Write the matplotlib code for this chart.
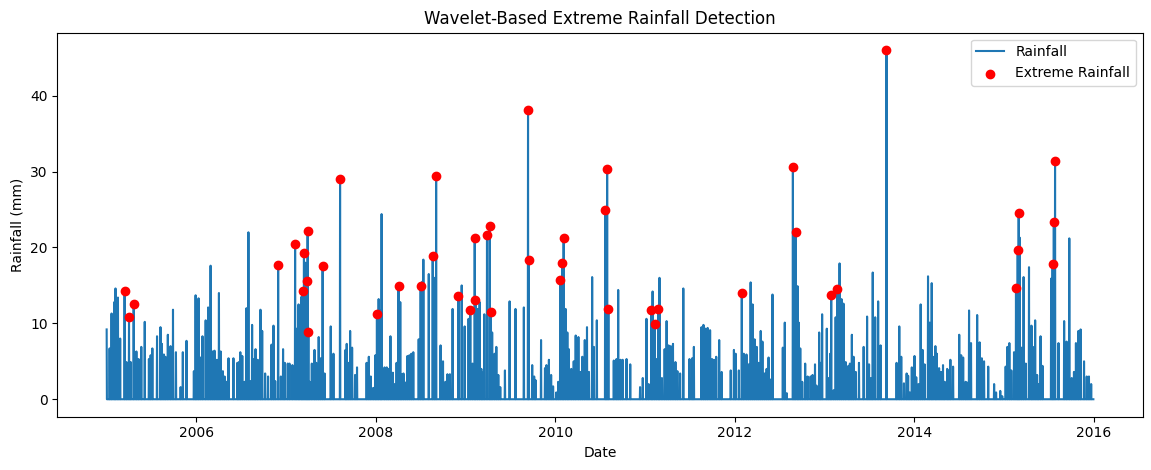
import numpy as np
import pandas as pd
import matplotlib
matplotlib.use("Agg")
import matplotlib.pyplot as plt

# Rain events: decimal year and rainfall (mm); all other days are 0
rain_years = [
    2005.000, 2005.032, 2005.054, 2005.084, 2005.099, 2005.125, 2005.151, 2005.200, 2005.222, 2005.248,
    2005.267, 2005.300, 2005.331, 2005.356, 2005.387, 2005.424, 2005.472, 2005.491, 2005.510, 2005.561,
    2005.599, 2005.617, 2005.639, 2005.655, 2005.681, 2005.711, 2005.740, 2005.771, 2005.823, 2005.849,
    2005.890, 2005.972, 2005.991, 2006.004, 2006.023, 2006.042, 2006.068, 2006.102, 2006.132, 2006.158,
    2006.183, 2006.202, 2006.228, 2006.250, 2006.269, 2006.295, 2006.314, 2006.337, 2006.359, 2006.412,
    2006.456, 2006.474, 2006.490, 2006.512, 2006.535, 2006.557, 2006.579, 2006.598, 2006.620, 2006.642,
    2006.658, 2006.684, 2006.714, 2006.732, 2006.766, 2006.799, 2006.837, 2006.859, 2006.878, 2006.911,
    2006.941, 2006.967, 2006.986, 2007.018, 2007.037, 2007.071, 2007.101, 2007.119, 2007.138, 2007.153,
    2007.172, 2007.186, 2007.198, 2007.213, 2007.228, 2007.239, 2007.247, 2007.261, 2007.287, 2007.317,
    2007.336, 2007.362, 2007.384, 2007.407, 2007.429, 2007.496, 2007.527, 2007.600, 2007.660, 2007.675,
    2007.690, 2007.712, 2007.734, 2007.768, 2007.790, 2007.896, 2007.922, 2007.944, 2007.970, 2007.995,
    2008.013, 2008.031, 2008.050, 2008.065, 2008.096, 2008.121, 2008.141, 2008.163, 2008.189, 2008.208,
    2008.230, 2008.253, 2008.272, 2008.289, 2008.308, 2008.331, 2008.350, 2008.372, 2008.394, 2008.417,
    2008.477, 2008.499, 2008.518, 2008.529, 2008.589, 2008.634, 2008.656, 2008.671, 2008.720, 2008.749,
    2008.776, 2008.798, 2008.824, 2008.854, 2008.921, 2008.955, 2008.990, 2009.032, 2009.051, 2009.077,
    2009.102, 2009.110, 2009.133, 2009.155, 2009.174, 2009.192, 2009.207, 2009.237, 2009.267, 2009.282,
    2009.297, 2009.323, 2009.342, 2009.364, 2009.387, 2009.438, 2009.491, 2009.555, 2009.648, 2009.696,
    2009.704, 2009.741, 2009.763, 2009.779, 2009.841, 2009.883, 2009.902, 2009.928, 2009.953, 2009.976,
    2010.010, 2010.032, 2010.055, 2010.077, 2010.092, 2010.114, 2010.133, 2010.151, 2010.178, 2010.204,
    2010.226, 2010.256, 2010.279, 2010.301, 2010.327, 2010.353, 2010.375, 2010.409, 2010.428, 2010.461,
    2010.554, 2010.566, 2010.577, 2010.592, 2010.652, 2010.682, 2010.700, 2010.726, 2010.749, 2010.793,
    2010.834, 2010.943, 2010.975, 2011.016, 2011.039, 2011.069, 2011.083, 2011.106, 2011.128, 2011.150,
    2011.159, 2011.188, 2011.218, 2011.240, 2011.262, 2011.285, 2011.311, 2011.337, 2011.360, 2011.389,
    2011.427, 2011.494, 2011.523, 2011.544, 2011.628, 2011.650, 2011.673, 2011.696, 2011.725, 2011.747,
    2011.769, 2011.792, 2011.826, 2011.852, 2011.953, 2011.989, 2012.010, 2012.044, 2012.078, 2012.100,
    2012.128, 2012.153, 2012.176, 2012.198, 2012.220, 2012.243, 2012.265, 2012.288, 2012.307, 2012.332,
    2012.355, 2012.377, 2012.396, 2012.419, 2012.534, 2012.556, 2012.579, 2012.646, 2012.661, 2012.676,
    2012.699, 2012.713, 2012.728, 2012.750, 2012.784, 2012.810, 2012.844, 2012.866, 2012.892, 2012.911,
    2012.940, 2012.956, 2012.973, 2013.025, 2013.047, 2013.063, 2013.074, 2013.100, 2013.122, 2013.142,
    2013.167, 2013.190, 2013.212, 2013.235, 2013.265, 2013.283, 2013.305, 2013.324, 2013.347, 2013.383,
    2013.436, 2013.473, 2013.495, 2013.518, 2013.537, 2013.563, 2013.596, 2013.623, 2013.690, 2013.802,
    2013.831, 2013.854, 2013.884, 2013.914, 2013.932, 2013.951, 2013.973, 2014.003, 2014.022, 2014.045,
    2014.070, 2014.093, 2014.115, 2014.152, 2014.171, 2014.193, 2014.208, 2014.235, 2014.252, 2014.275,
    2014.297, 2014.319, 2014.339, 2014.365, 2014.384, 2014.403, 2014.432, 2014.499, 2014.522, 2014.544,
    2014.571, 2014.588, 2014.611, 2014.633, 2014.701, 2014.727, 2014.753, 2014.776, 2014.824, 2014.888,
    2014.910, 2014.958, 2014.980, 2015.017, 2015.036, 2015.059, 2015.080, 2015.110, 2015.133, 2015.152,
    2015.163, 2015.174, 2015.193, 2015.219, 2015.241, 2015.278, 2015.305, 2015.323, 2015.345, 2015.368,
    2015.383, 2015.406, 2015.428, 2015.525, 2015.540, 2015.555, 2015.569, 2015.607, 2015.670, 2015.697,
    2015.726, 2015.753, 2015.779, 2015.801, 2015.827, 2015.854, 2015.891, 2015.921, 2015.947, 2015.970,
]
rain_mm = [
    9.2, 6.7, 11.3, 12.8, 14.6, 13.4, 8.0, 14.2, 4.9, 10.9,
    4.9, 12.5, 6.3, 5.3, 6.9, 10.2, 5.3, 5.8, 6.7, 8.3,
    9.5, 7.3, 5.9, 5.6, 8.5, 7.0, 11.8, 6.2, 1.6, 6.2,
    7.7, 3.7, 13.7, 5.5, 13.3, 5.5, 8.3, 10.4, 12.1, 17.6,
    6.3, 6.4, 5.2, 14.0, 6.3, 3.7, 3.0, 2.3, 5.4, 5.4,
    4.8, 4.9, 6.2, 5.7, 2.3, 12.0, 22.0, 2.4, 9.8, 5.3,
    6.6, 5.2, 11.8, 9.0, 3.4, 3.0, 7.2, 9.7, 2.4, 17.7,
    3.0, 6.6, 4.8, 4.7, 4.7, 4.5, 20.4, 9.3, 12.5, 12.2,
    13.5, 14.2, 19.3, 18.0, 15.6, 22.2, 8.9, 2.3, 4.7, 6.5,
    4.8, 8.2, 5.4, 17.6, 3.4, 9.6, 6.0, 29.0, 6.5, 7.3,
    4.8, 9.0, 6.8, 3.2, 4.2, 4.8, 5.6, 3.0, 1.5, 5.8,
    11.2, 13.2, 11.7, 24.4, 4.2, 4.2, 4.0, 8.3, 3.5, 2.0,
    4.8, 14.9, 12.8, 3.3, 3.4, 2.2, 5.7, 5.8, 6.0, 6.2,
    7.9, 14.9, 15.5, 18.4, 16.5, 18.9, 16.0, 29.4, 7.1, 5.0,
    2.3, 3.3, 3.3, 11.9, 13.6, 15.0, 9.6, 10.6, 11.7, 4.7,
    21.2, 13.1, 11.9, 12.8, 4.0, 3.5, 11.2, 21.7, 22.8, 11.5,
    8.8, 6.0, 6.9, 3.2, 1.6, 3.8, 12.9, 11.9, 12.1, 38.1,
    18.3, 4.5, 3.0, 2.5, 7.8, 4.1, 4.5, 5.2, 3.2, 1.7,
    0.9, 2.3, 15.7, 18.0, 21.3, 11.9, 8.8, 6.6, 4.0, 5.0,
    8.4, 8.2, 3.6, 5.6, 7.8, 9.5, 3.6, 16.1, 6.9, 10.4,
    25.0, 24.0, 30.3, 11.9, 5.1, 5.3, 14.4, 5.2, 5.2, 5.3,
    4.6, 1.6, 2.8, 10.6, 2.0, 11.7, 14.2, 9.9, 5.3, 11.9,
    16.0, 2.8, 6.6, 10.3, 7.1, 7.0, 7.3, 4.9, 3.7, 3.4,
    14.6, 5.3, 5.4, 6.9, 9.5, 9.8, 9.3, 9.4, 9.1, 5.3,
    5.2, 5.6, 7.8, 3.6, 3.8, 6.5, 6.0, 3.8, 14.0, 6.0,
    5.9, 4.6, 15.4, 12.5, 7.9, 6.9, 4.8, 9.0, 7.6, 3.4,
    4.0, 5.5, 2.6, 13.8, 6.8, 10.1, 0.8, 30.6, 21.5, 22.0,
    14.9, 10.1, 6.7, 2.3, 4.7, 3.0, 3.0, 3.2, 4.6, 1.8,
    8.8, 4.8, 11.2, 9.3, 2.8, 6.0, 13.8, 1.2, 10.8, 14.5,
    17.9, 13.2, 12.6, 4.9, 4.4, 4.7, 8.5, 5.6, 3.6, 4.8,
    6.9, 10.9, 4.6, 2.8, 16.7, 10.8, 12.9, 7.1, 46.0, 4.8,
    9.6, 5.6, 2.1, 3.4, 3.1, 0.9, 4.2, 5.7, 2.9, 2.0,
    12.5, 6.5, 4.6, 16.2, 10.1, 15.3, 5.6, 7.0, 6.0, 4.1,
    3.6, 4.5, 2.3, 4.0, 3.8, 5.2, 4.3, 8.5, 5.8, 5.5,
    2.3, 2.2, 11.7, 7.4, 11.1, 7.5, 5.4, 5.0, 4.3, 2.0,
    0.9, 1.1, 0.4, 4.3, 6.9, 7.4, 3.8, 6.2, 14.7, 19.7,
    24.5, 21.3, 6.8, 16.1, 4.7, 17.4, 9.7, 6.9, 10.4, 3.2,
    2.0, 8.3, 4.4, 15.9, 17.8, 23.4, 31.4, 7.4, 10.3, 7.6,
    21.2, 2.8, 3.6, 7.4, 9.0, 9.2, 5.0, 3.0, 3.0, 2.0,
]

# Days flagged as extreme (red points), decimal years
extreme_years = [
    2005.200, 2005.248, 2005.300, 2006.911, 2007.101, 2007.186, 2007.198, 2007.228, 2007.239, 2007.247,
    2007.407, 2007.600, 2008.013, 2008.253, 2008.499, 2008.634, 2008.671, 2008.921, 2009.051, 2009.102,
    2009.110, 2009.237, 2009.267, 2009.282, 2009.696, 2009.704, 2010.055, 2010.077, 2010.092, 2010.554,
    2010.577, 2010.592, 2011.069, 2011.106, 2011.150, 2012.078, 2012.646, 2012.676, 2013.074, 2013.142,
    2013.690, 2015.133, 2015.152, 2015.163, 2015.540, 2015.555, 2015.569,
]

dates = pd.date_range("2005-01-01", "2015-12-31", freq="D")
n = len(dates)


def to_index(years):
    idx = np.rint((np.asarray(years) - 2005.0) * 365.25).astype(int)
    return np.clip(idx, 0, n - 1)


rain = np.zeros(n)
rain[to_index(rain_years)] = rain_mm
ext_idx = to_index(extreme_years)

fig = plt.figure(figsize=(11.51, 4.70), dpi=100)
ax = fig.add_subplot(111)
fig.subplots_adjust(left=0.0498, right=0.9928, top=0.9304, bottom=0.1134)

ax.plot(dates, rain, label="Rainfall")
ax.scatter(dates[ext_idx], rain[ext_idx], color="red", label="Extreme Rainfall", zorder=3)

ax.set_title("Wavelet-Based Extreme Rainfall Detection")
ax.set_xlabel("Date")
ax.set_ylabel("Rainfall (mm)")
ax.legend(loc="upper right")

fig.savefig("out.png", dpi=100)
